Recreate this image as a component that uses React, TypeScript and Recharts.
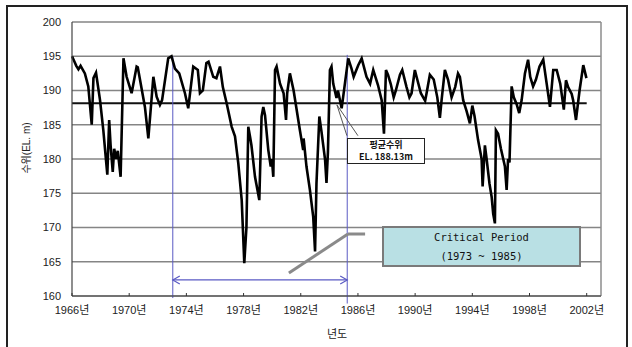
import { LineChart, Line, XAxis, YAxis, CartesianGrid, ReferenceLine } from "recharts";

// water level readings (EL. m)
const YEARS = [
  1966.0, 1966.15, 1966.3, 1966.45, 1966.6, 1966.9, 1967.14, 1967.38, 1967.5, 1967.68,
  1967.96, 1968.19, 1968.38, 1968.47, 1968.6, 1968.7, 1968.85, 1968.95, 1969.1, 1969.2,
  1969.4, 1969.6, 1969.82, 1970.17, 1970.52, 1970.6, 1971.1, 1971.34, 1971.69, 1971.92,
  1972.15, 1972.3, 1972.73, 1972.96, 1973.2, 1973.5, 1973.9, 1974.13, 1974.48, 1974.8,
  1974.95, 1975.15, 1975.4, 1975.55, 1975.88, 1976.1, 1976.35, 1976.55, 1976.82, 1977.17,
  1977.4, 1977.63, 1977.87, 1978.05, 1978.2, 1978.33, 1978.45, 1978.55, 1978.8, 1979.1,
  1979.26, 1979.38, 1979.5, 1979.73, 1979.9, 1979.98, 1980.08, 1980.2, 1980.31, 1980.55,
  1980.8, 1980.97, 1981.05, 1981.24, 1981.5, 1981.94, 1982.17, 1982.2, 1982.4, 1982.64,
  1982.87, 1983.0, 1983.1, 1983.3, 1983.45, 1983.7, 1983.8, 1983.9, 1984.04, 1984.15,
  1984.27, 1984.5, 1984.6, 1984.86, 1985.32, 1985.55, 1985.7, 1986.02, 1986.26, 1986.6,
  1986.85, 1987.07, 1987.4, 1987.66, 1987.82, 1987.96, 1988.1, 1988.3, 1988.5, 1988.65,
  1988.94, 1989.1, 1989.4, 1989.6, 1989.75, 1989.98, 1990.1, 1990.4, 1990.7, 1990.8,
  1991.03, 1991.3, 1991.55, 1991.73, 1991.85, 1992.08, 1992.3, 1992.55, 1992.8, 1993.0,
  1993.13, 1993.36, 1993.6, 1993.83, 1994.0, 1994.15, 1994.4, 1994.65, 1994.72, 1994.88,
  1995.0, 1995.2, 1995.35, 1995.46, 1995.58, 1995.65, 1995.8, 1996.0, 1996.28, 1996.4,
  1996.5, 1996.6, 1996.75, 1996.9, 1997.1, 1997.28, 1997.45, 1997.68, 1997.9, 1998.05,
  1998.25, 1998.45, 1998.7, 1998.96, 1999.2, 1999.43, 1999.66, 1999.9, 2000.15, 2000.4,
  2000.55, 2000.7, 2000.95, 2001.05, 2001.25, 2001.5, 2001.76, 2001.98,
];

const LEVELS = [
  195.0, 194.3, 193.6, 193.1, 193.6, 192.5, 190.6, 185.0, 191.8, 192.6,
  188.6, 184.2, 179.8, 177.7, 185.7, 182.0, 178.1, 181.5, 180.0, 181.2,
  177.4, 194.7, 192.0, 189.6, 193.5, 193.4, 187.6, 183.0, 192.0, 189.1,
  187.9, 188.6, 194.7, 195.0, 193.2, 192.5, 189.6, 187.4, 193.5, 193.0,
  189.6, 190.0, 194.0, 194.2, 192.0, 191.8, 193.5, 190.5, 188.1, 184.7,
  183.3, 179.4, 174.0, 164.8, 170.0, 184.7, 183.3, 182.0, 177.4, 174.0,
  186.2, 187.6, 186.4, 181.3, 178.9, 180.0, 177.4, 193.0, 193.5, 191.0,
  189.6, 185.7, 189.6, 192.5, 190.0, 184.2, 181.3, 183.0, 178.9, 175.5,
  171.6, 166.5, 176.5, 186.2, 184.0, 179.9, 176.5, 181.0, 193.0, 193.5,
  191.0, 188.9, 190.0, 187.4, 194.7, 193.2, 192.0, 193.7, 194.7, 192.0,
  191.0, 193.0, 190.8, 188.6, 183.7, 193.0, 192.3, 190.9, 189.0, 190.0,
  192.3, 193.0, 190.5, 189.0, 189.6, 193.0, 192.0, 189.6, 188.5, 189.6,
  192.3, 191.6, 189.0, 186.0, 188.6, 193.0, 191.6, 189.0, 190.5, 192.5,
  192.0, 188.6, 187.0, 185.2, 187.8, 186.3, 182.8, 180.0, 176.0, 182.0,
  180.0, 176.4, 174.5, 172.0, 170.6, 184.2, 183.7, 181.5, 178.9, 175.5,
  180.0, 179.5, 190.6, 189.0, 188.0, 186.7, 188.6, 192.5, 194.5, 192.0,
  190.6, 191.6, 193.5, 194.5, 191.0, 187.6, 193.0, 193.0, 191.0, 187.2,
  191.5, 190.5, 189.5, 188.6, 185.7, 190.0, 193.7, 191.8,
];

const X_TICKS = [1966, 1970, 1974, 1978, 1982, 1986, 1990, 1994, 1998, 2002];
const Y_TICKS = [160, 165, 170, 175, 180, 185, 190, 195, 200];

const MEAN_LEVEL = 188.13;
const PERIOD_START = 1973.05;
const PERIOD_END = 1985.25;

const data = YEARS.map((year, i) => ({ year, level: LEVELS[i] }));

const FONT = "'Liberation Sans', 'Noto Sans CJK KR', sans-serif";
const BLUE = "#5a5ac4";

function YearTick({ x, y, payload }: any) {
  return (
    <g>
      <line x1={x} x2={x} y1={y - 13} y2={y - 10} stroke="#333" />
      <text x={x} y={y} dy="0.71em" textAnchor="middle" fontSize={11} fill="#222" fontFamily={FONT}>
        {payload.value}년
      </text>
    </g>
  );
}

function DoubleArrow({ x1, y1, x2, y2 }: any) {
  return (
    <g stroke={BLUE} strokeWidth={1.2} fill="none">
      <line x1={x1} y1={y1} x2={x2} y2={y2} />
      <polyline points={`${x1 + 7},${y1 - 4} ${x1},${y1} ${x1 + 7},${y1 + 4}`} />
      <polyline points={`${x2 - 7},${y2 - 4} ${x2},${y2} ${x2 - 7},${y2 + 4}`} />
    </g>
  );
}

export default function App() {
  return (
    <div style={{ position: "relative", width: 632, height: 347, overflow: "hidden", background: "#fff" }}>
      <style>{"body{margin:0}"}</style>
      <div
        style={{
          position: "absolute",
          left: 6,
          top: 5,
          width: 618,
          height: 360,
          border: "2px solid #222",
        }}
      />
      <LineChart width={632} height={347} data={data} margin={{ top: 22, right: 31, bottom: 6, left: 0 }}>
        <CartesianGrid vertical={false} stroke="#858585" strokeWidth={1.6} />
        <XAxis
          dataKey="year"
          type="number"
          domain={[1966, 2003]}
          ticks={X_TICKS}
          interval={0}
          height={45}
          tickLine={false}
          tickSize={0}
          tickMargin={10}
          tick={<YearTick />}
          axisLine={{ stroke: "#444", strokeWidth: 1.2 }}
        />
        <YAxis
          type="number"
          domain={[160, 200]}
          ticks={Y_TICKS}
          width={72}
          tickLine={false}
          tickSize={0}
          tickMargin={11}
          tick={{ fontSize: 11, fill: "#222", fontFamily: FONT }}
          axisLine={{ stroke: "#444", strokeWidth: 1.2 }}
        />
        <ReferenceLine x={2003} stroke="#8c8c8c" strokeWidth={1.5} />
        <ReferenceLine
          segment={[{ x: 1966, y: MEAN_LEVEL }, { x: 2002, y: MEAN_LEVEL }]}
          stroke="#111"
          strokeWidth={2}
        />
        <ReferenceLine
          segment={[{ x: PERIOD_START, y: 195 }, { x: PERIOD_START, y: 159.7 }]}
          stroke={BLUE}
          strokeWidth={1}
          ifOverflow="visible"
        />
        <ReferenceLine
          segment={[{ x: PERIOD_END, y: 195.2 }, { x: PERIOD_END, y: 158.9 }]}
          stroke={BLUE}
          strokeWidth={1}
          ifOverflow="visible"
        />
        <ReferenceLine
          segment={[{ x: PERIOD_START, y: 162.34 }, { x: PERIOD_END, y: 162.34 }]}
          shape={<DoubleArrow />}
          ifOverflow="visible"
        />
        <Line
          dataKey="level"
          stroke="#000"
          strokeWidth={2.6}
          strokeLinejoin="miter"
          dot={false}
          isAnimationActive={false}
        />
        {/* callout leaders */}
        <ReferenceLine
          segment={[{ x: 1984.53, y: 187.9 }, { x: 1985.23, y: 183.4 }]}
          stroke="#555"
          strokeWidth={1}
        />
        <ReferenceLine
          segment={[{ x: 1984.53, y: 187.9 }, { x: 1986.0, y: 183.4 }]}
          stroke="#555"
          strokeWidth={1}
        />
        <ReferenceLine
          segment={[{ x: 1981.17, y: 163.36 }, { x: 1985.3, y: 169.05 }]}
          stroke="#8a8a8a"
          strokeWidth={3}
        />
        <ReferenceLine
          segment={[{ x: 1985.3, y: 169.05 }, { x: 1986.5, y: 169.05 }]}
          stroke="#8a8a8a"
          strokeWidth={3}
        />
      </LineChart>

      <div
        style={{
          position: "absolute",
          left: 25,
          top: 148,
          transform: "translate(-50%, -50%) rotate(-90deg)",
          fontSize: 10,
          fontFamily: FONT,
          color: "#222",
          whiteSpace: "nowrap",
        }}
      >
        수위(EL. m)
      </div>
      <div
        style={{
          position: "absolute",
          left: 337,
          top: 325,
          transform: "translateX(-50%)",
          fontSize: 11,
          fontFamily: FONT,
          color: "#222",
        }}
      >
        년도
      </div>

      <div
        style={{
          position: "absolute",
          left: 347,
          top: 138,
          width: 76,
          height: 24,
          background: "#fff",
          border: "1.5px solid #222",
          fontFamily: "'Noto Sans CJK KR', sans-serif",
          fontWeight: 700,
          fontSize: 9,
          lineHeight: "12px",
          textAlign: "center",
          color: "#111",
        }}
      >
        <div>평균수위</div>
        <div>EL. 188.13m</div>
      </div>

      <div
        style={{
          position: "absolute",
          left: 382,
          top: 226,
          width: 195,
          height: 37,
          background: "#b9e0e4",
          border: "2px solid #7a7a7a",
          fontFamily: "'DejaVu Sans Mono', monospace",
          fontSize: 10.5,
          lineHeight: "19px",
          textAlign: "center",
          color: "#111",
        }}
      >
        <div>Critical Period</div>
        <div>(1973 ~ 1985)</div>
      </div>
    </div>
  );
}
